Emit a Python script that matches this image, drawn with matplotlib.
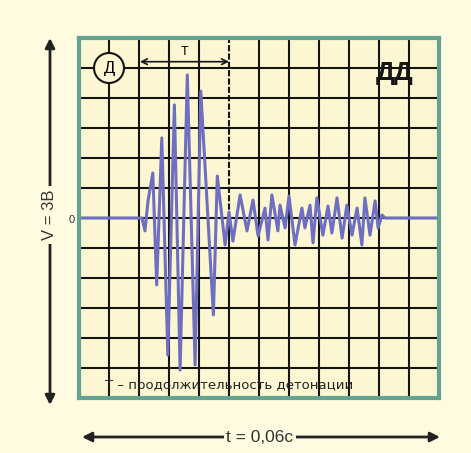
import matplotlib
matplotlib.use("Agg")
import matplotlib.pyplot as plt
from matplotlib.patches import Circle

plt.rcParams['font.family'] = ['Liberation Sans', 'DejaVu Sans']

# grid divisions: 12 x 12, time axis = 0.06 s, voltage axis = 3 V
sig_x = [0, 2.1, 2.2, 2.3, 2.46, 2.59, 2.76, 2.96, 3.18, 3.37, 3.61, 3.87,
         4.06, 4.48, 4.61, 4.87, 5.0, 5.13, 5.37, 5.6, 5.8, 5.97, 6.2, 6.3,
         6.43, 6.63, 6.7, 6.87, 7.0, 7.2, 7.43, 7.53, 7.7, 7.8, 7.93, 8.13,
         8.3, 8.43, 8.6, 8.77, 8.93, 9.1, 9.27, 9.43, 9.53, 9.7, 9.87, 9.97,
         10.1, 10.2, 12]
sig_y = [0, 0, -0.43, 0.57, 1.5, -2.23, 2.67, -4.57, 3.77, -5.07, 4.77, -4.9,
         4.23, -3.23, 1.4, -0.9, 0.2, -0.77, 0.77, -0.43, 0.6, -0.6, 0.33, -0.73,
         0.77, -0.43, 0.43, -0.33, 0.73, -0.9, 0.33, -0.33, 0.43, -0.83, 0.67, -0.57,
         0.4, -0.5, 0.67, -0.67, 0.43, -0.57, 0.33, -0.9, 0.67, -0.57, 0.57, -0.33,
         0.1, 0, 0]

grid_x = [1, 2, 3, 4, 6, 7, 8, 9, 10, 11]
grid_y = [-5, -4, -3, -2, -1, 0, 1, 2, 3, 4, 5]
t_mark = 5          # end of detonation (dashed line)
t_start = 2.03      # start of detonation

bg_out = '#fefbe1'
bg_in = '#fdf6d2'
border = '#63a38f'
line_c = '#151515'
sig_c = '#6f6fc2'

fig = plt.figure(figsize=(4.71, 4.53), dpi=100, facecolor=bg_out)
ax = fig.add_axes([79/471, 55/453, 360/471, 360/453])
ax.set_xlim(0, 12)
ax.set_ylim(-6, 6)
ax.set_facecolor(bg_in)
ax.set_xticks([])
ax.set_yticks([])
for s in ax.spines.values():
    s.set_color(border)
    s.set_linewidth(3)
    s.set_zorder(6)

ax.hlines(grid_y, 0, 12, colors=line_c, lw=1.5, zorder=1)
ax.vlines(grid_x, -6, 6, colors=line_c, lw=1.5, zorder=1)
ax.vlines(t_mark, -6, 0, colors=line_c, lw=1.5, zorder=1)
ax.plot([t_mark, t_mark], [0, 6], color=line_c, lw=1.5, ls=(0, (3, 1)), zorder=1)

ax.plot(sig_x, sig_y, color=sig_c, lw=2.2, zorder=3)

ax.add_patch(Circle((1, 5), 0.5, fc=bg_in, ec=line_c, lw=1.5, zorder=4))
ax.text(1, 5, 'Д', ha='center', va='center', fontsize=12, zorder=5)

ax.annotate('', xy=(t_start, 5.21), xytext=(t_mark, 5.21),
            arrowprops=dict(arrowstyle='<->', lw=1.2, color=line_c,
                            shrinkA=0, shrinkB=0), zorder=5)
ax.text((t_start + t_mark) / 2, 5.55, 'Т', ha='center', va='center', fontsize=9)

ax.text(10.53, 4.83, 'ДД', ha='center', va='center', fontsize=19,
        fontweight='bold', color=line_c)
ax.text(0.87, -5.57, 'Т – продолжительность детонации', ha='left',
        va='center', fontsize=9.5, color='#222222', zorder=5,
        family='DejaVu Sans')

# outer arrows
ax.annotate('', xy=(50/471, 1 - 38/453), xytext=(50/471, 1 - 405/453),
            xycoords='figure fraction', textcoords='figure fraction',
            arrowprops=dict(arrowstyle='<|-|>', lw=2, color='#222222',
                            mutation_scale=14, shrinkA=0, shrinkB=0))
fig.text(50/471, 1 - 215/453, 'V = 3В', rotation=90, ha='center', va='center',
         fontsize=12, color='#333333',
         bbox=dict(fc=bg_out, ec='none', pad=3))
fig.text(72/471, 1 - 220/453, '0', ha='center', va='center', fontsize=8,
         color='#333333')

ax.annotate('', xy=(82/471, 1 - 437/453), xytext=(440/471, 1 - 437/453),
            xycoords='figure fraction', textcoords='figure fraction',
            arrowprops=dict(arrowstyle='<|-|>', lw=2, color='#222222',
                            mutation_scale=14, shrinkA=0, shrinkB=0))
fig.text(260/471, 1 - 437/453, 't = 0,06с', ha='center', va='center',
         fontsize=12.5, color='#333333',
         bbox=dict(fc=bg_out, ec='none', pad=2))

fig.savefig('out.png', dpi=100, facecolor=fig.get_facecolor())
